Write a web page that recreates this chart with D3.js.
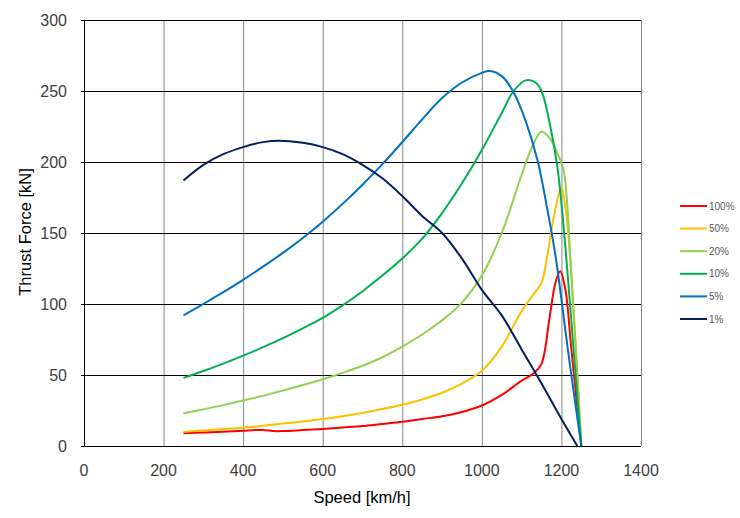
<!DOCTYPE html>
<html><head><meta charset="utf-8">
<script src="https://cdn.jsdelivr.net/npm/d3@7/dist/d3.min.js"></script>
<style>body{margin:0;background:#fff}svg{display:block}</style>
</head><body>
<svg id="c" width="740" height="518"></svg>
<script>
const seriesNames = ["100%","50%","20%","10%","5%","1%"];
const seriesColors = ["#FF0000","#FFC000","#92D050","#00B050","#0070C0","#002060"];
const xTicks = [0,200,400,600,800,1000,1200,1400];
const yTicks = [0,50,100,150,200,250,300];

const s100 = [[250,9],[300,9.5],[350,10],[400,10.8],[450,11.3],[475,10.5],[500,10.5],[550,11.2],[600,12],[650,13],[700,14],[750,15.5],[800,17],[850,19],[900,21],[950,24],[1000,28.5],[1050,36],[1100,46],[1130,51],[1150,58],[1170,90],[1185,115],[1197,123],[1210,110],[1225,68],[1250,0]];
const s50 = [[250,10],[300,11],[350,12],[400,13],[450,14.3],[500,15.8],[550,17.3],[600,19],[650,21],[700,23.3],[750,26],[800,29],[850,32.8],[900,37.5],[950,44],[1000,53],[1050,70],[1100,95],[1130,107],[1150,115],[1165,135],[1180,160],[1200,182],[1210,168],[1220,140],[1250,0]];
const s20 = [[250,23],[300,25.8],[350,28.8],[400,32],[450,35.4],[500,39],[550,42.9],[600,47],[650,51.5],[700,56.5],[750,62.5],[800,70],[850,78.5],[900,88.5],[950,101],[1000,120],[1050,150],[1100,191],[1130,213],[1150,221.5],[1170,217],[1190,206],[1205,195],[1225,120],[1250,0]];
const s10 = [[250,48],[300,52.8],[350,58],[400,63.6],[450,69.6],[500,76],[550,82.9],[600,90.3],[650,99],[700,109],[750,120],[800,132],[850,146],[900,164],[950,185],[1000,208.5],[1050,234.5],[1080,250],[1110,257.5],[1135,256],[1150,250],[1170,228],[1190,196],[1210,140],[1230,70],[1250,0]];
const s5 = [[250,92],[300,100],[350,108.3],[400,117],[450,126.3],[500,136],[550,146.5],[600,158],[650,170.5],[700,184],[750,198.5],[800,214],[850,230],[900,245],[950,256],[1000,262.8],[1020,264],[1050,260.5],[1080,249],[1110,229],[1140,201],[1165,166],[1185,134],[1220,60],[1250,0]];
const s1 = [[250,187],[300,198],[350,205.5],[400,210.5],[450,214],[490,215],[550,213.5],[600,210.5],[650,205.5],[700,198],[750,188.5],[800,176],[850,162],[900,150],[950,132],[1000,110],[1050,92],[1100,68],[1150,44],[1200,19],[1240,0]];
const seriesData = [s100,s50,s20,s10,s5,s1];

const svg = d3.select("#c");
const L=84, R=641, T=20, B=446;
const x = d3.scaleLinear().domain([0,1400]).range([L,R]);
const y = d3.scaleLinear().domain([0,300]).range([B,T]);
const font = "'Liberation Sans', Arial, sans-serif";

svg.append("g").selectAll("line").data(xTicks.slice(1)).join("line")
  .attr("x1",d=>x(d)+0.5).attr("x2",d=>x(d)+0.5).attr("y1",T).attr("y2",B)
  .attr("stroke","#868686").attr("stroke-width",1);
svg.append("g").selectAll("line").data(yTicks.slice(1)).join("line")
  .attr("x1",L-3).attr("x2",R).attr("y1",d=>Math.round(y(d))+0.5).attr("y2",d=>Math.round(y(d))+0.5)
  .attr("stroke","#000").attr("stroke-width",1);
svg.append("line").attr("x1",L+0.5).attr("x2",L+0.5).attr("y1",T).attr("y2",B).attr("stroke","#000");
svg.append("line").attr("x1",L-3).attr("x2",R).attr("y1",B+0.5).attr("y2",B+0.5).attr("stroke","#000");

svg.append("g").selectAll("text").data(yTicks).join("text")
  .attr("x",67).attr("y",d=>y(d)).attr("dy","0.36em").attr("text-anchor","end")
  .attr("font-family",font).attr("font-size",16).attr("fill","#404040").text(d=>d);
svg.append("g").selectAll("text").data(xTicks).join("text")
  .attr("x",d=>x(d)).attr("y",476).attr("text-anchor","middle")
  .attr("font-family",font).attr("font-size",16).attr("fill","#404040").text(d=>d);

svg.append("text").attr("transform","translate(31,232) rotate(-90)").attr("text-anchor","middle")
  .attr("font-family",font).attr("font-size",16.5).attr("fill","#000").text("Thrust Force [kN]");
svg.append("text").attr("x",362).attr("y",503).attr("text-anchor","middle")
  .attr("font-family",font).attr("font-size",16.5).attr("fill","#000").text("Speed [km/h]");

const line = d3.line().x(d=>x(d[0])).y(d=>Math.min(y(d[1]),B)).curve(d3.curveCatmullRom.alpha(0.5));
svg.append("g").selectAll("path").data(seriesData).join("path")
  .attr("d",line).attr("fill","none")
  .attr("stroke",(d,i)=>seriesColors[i]).attr("stroke-width",2);

const lg = svg.append("g");
seriesNames.forEach((n,i)=>{
  const yy = 206 + i*22.6;
  lg.append("line").attr("x1",680).attr("x2",707).attr("y1",yy).attr("y2",yy)
    .attr("stroke",seriesColors[i]).attr("stroke-width",2);
  lg.append("text").attr("x",709).attr("y",yy).attr("dy","0.35em")
    .attr("font-family",font).attr("font-size",10).attr("fill","#595959").text(n);
});
</script>
</body></html>
